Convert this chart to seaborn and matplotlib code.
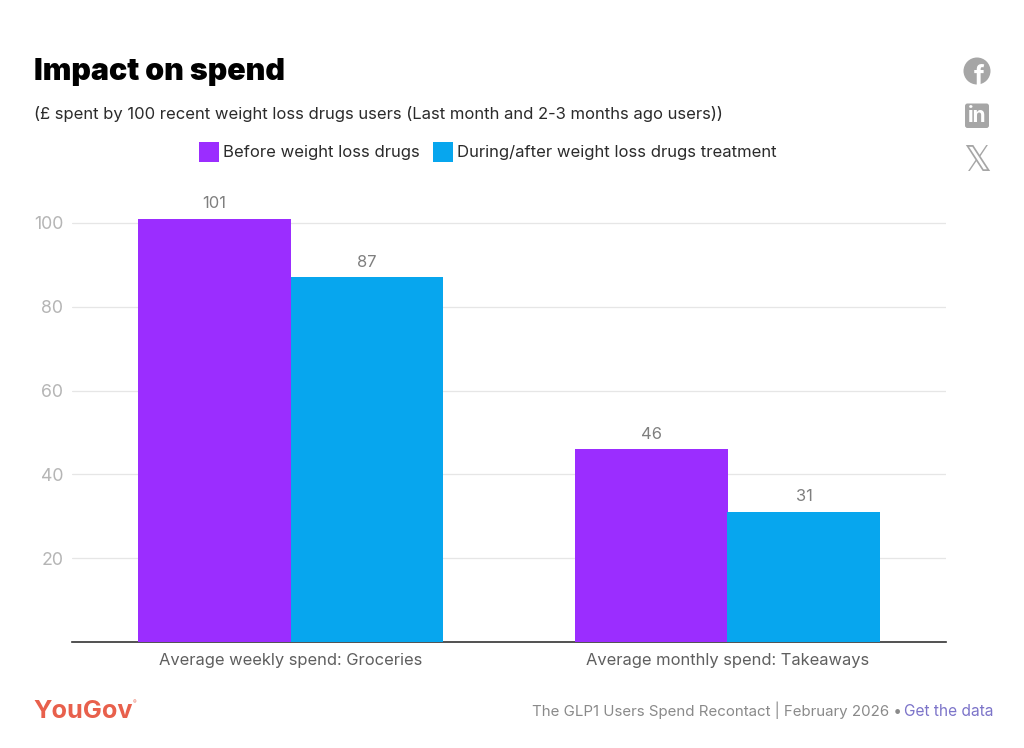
import matplotlib
matplotlib.use("Agg")
import matplotlib.pyplot as plt
from matplotlib.patches import Circle, FancyBboxPatch, Rectangle
from matplotlib.transforms import Affine2D
import pandas as pd
import seaborn as sns

categories = ["Average weekly spend: Groceries", "Average monthly spend: Takeaways"]
series_names = ["Before weight loss drugs", "During/after weight loss drugs treatment"]
before_values = [101, 46]
during_values = [87, 31]
y_ticks = [20, 40, 60, 80, 100]
series_colors = ["#9B2DFF", "#07A6EE"]

W, H = 1024, 748
sns.set_theme(style="white")
plt.rcParams["font.family"] = ["Inter", "DejaVu Sans"]

frame = pd.DataFrame({
    "category": categories * 2,
    "series": [series_names[0]] * 2 + [series_names[1]] * 2,
    "value": before_values + during_values,
})

fig = plt.figure(figsize=(W / 100, H / 100), dpi=100, facecolor="white")
top_px, bottom_px, left_px, right_px = 200, 642, 72, 946
ax = fig.add_axes([left_px / W, 1 - bottom_px / H, (right_px - left_px) / W, (bottom_px - top_px) / H])

sns.barplot(data=frame, x="category", y="value", hue="series", order=categories,
            hue_order=series_names, palette=series_colors, width=0.7, gap=0,
            saturation=1, legend=False, errorbar=None, linewidth=0, ax=ax, zorder=3)

ax.set_xlim(-0.5, 1.5)
ax.set_ylim(0, (bottom_px - top_px) / 4.19)
ax.set_yticks(y_ticks)
ax.set_xlabel("")
ax.set_ylabel("")
ax.grid(axis="y", color="#E6E6E6", linewidth=0.9, zorder=0)
ax.set_axisbelow(True)
for side in ("top", "right", "left"):
    ax.spines[side].set_visible(False)
ax.spines["bottom"].set_color("#333333")
ax.spines["bottom"].set_linewidth(1.2)
ax.tick_params(axis="x", length=0, pad=8, labelsize=11.9, labelcolor="#5F5F5F")
ax.tick_params(axis="y", length=0, pad=6.3, labelsize=12.8, labelcolor="#B5B5B5")
for label in ax.get_yticklabels():
    label.set_ha("right")

for container in ax.containers:
    ax.bar_label(container, fmt="%d", padding=5.5, fontsize=11.9, color="#7F7F7F")


def px_text(x, y, s, **kw):
    fig.text(x / W, 1 - y / H, s, **kw)


px_text(34.5, 71.5, "Impact on spend", fontsize=21.9, fontweight="black", color="black", va="center")
px_text(34, 113.5, "(£ spent by 100 recent weight loss drugs users (Last month and 2-3 months ago users))",
        fontsize=11.97, color="#2B2B2B", va="center")

# Legend row, laid out by hand
for x0, name, colour in [(199, series_names[0], series_colors[0]), (433, series_names[1], series_colors[1])]:
    fig.add_artist(Rectangle((x0 / W, 1 - 162 / H), 20 / W, 20 / H, transform=fig.transFigure,
                             facecolor=colour, edgecolor="none"))
    px_text(x0 + 24, 153, name, fontsize=12.0, color="#2B2B2B", va="center")

# Footer
px_text(33.5, 712, "YouGov", fontsize=18.2, fontweight="bold", color="#E8604C", va="center")
px_text(132.5, 703, "®", fontsize=4, color="#E8604C", va="center")
px_text(906, 716, "The GLP1 Users Spend Recontact | February 2026 • ", fontsize=10.85,
        color="#8A8A8A", va="baseline", ha="right")
px_text(904, 716, "Get the data", fontsize=11.2, color="#7C74C9", va="baseline")

# Share icons drawn in pixel space
icon_grey = "#A6A6A6"
pixel = Affine2D().scale(1, -1).translate(0, H)
fig.add_artist(Circle((977, 71), 13.5, transform=pixel, facecolor=icon_grey, edgecolor="none"))
fig.text(979 / W, 1 - 85 / H, "f", fontsize=19, fontweight="bold", color="white", ha="center", va="baseline")
fig.add_artist(FancyBboxPatch((965, 103.5), 24, 24.5, boxstyle="round,pad=0,rounding_size=2.5",
                              transform=pixel, facecolor=icon_grey, edgecolor="none"))
px_text(977, 116, "in", fontsize=15, fontweight="bold", color="white", ha="center", va="center")
px_text(977, 161, "𝕏", fontsize=25, color=icon_grey, ha="center", va="center", family=["DejaVu Sans"])

fig.savefig("out.png", dpi=100, facecolor="white")
